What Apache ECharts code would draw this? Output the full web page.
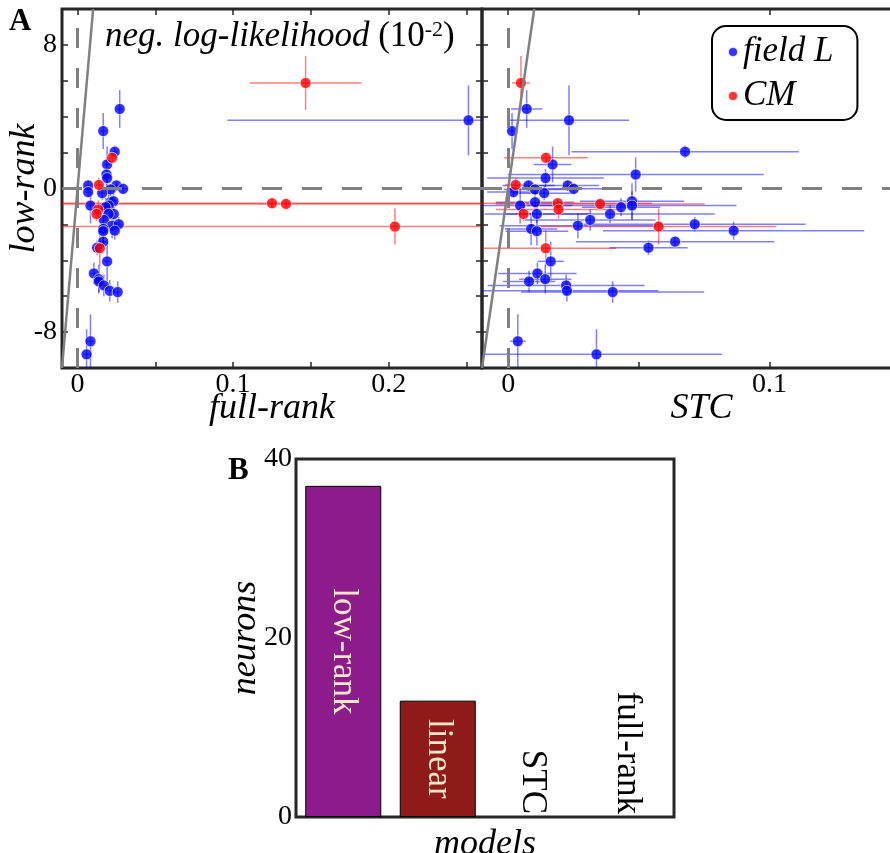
<!DOCTYPE html>
<html><head><meta charset="utf-8">
<script src="https://cdn.jsdelivr.net/npm/echarts@6/dist/echarts.min.js"></script>
<style>html,body{margin:0;padding:0;background:#fff}#c{width:890px;height:853px}</style>
</head><body><div id="c"></div>
<script>
// ---------- Panel A: field L (blue) ----------
const fieldL_lowRank    = [4.43, 3.80, 3.20, 2.05, 1.34, 0.78, 0.58, 0.17, -0.05, 0.17, -0.02, -0.26, -0.20, -0.95, -0.76, -0.71, -0.95, -1.04, -1.42, -1.42, -1.75, -2.07, -1.99, -2.35, -2.25, -2.38, -2.96, -3.30, -4.06, -4.73, -5.05, -5.18, -5.40, -5.70, -5.77, -8.51, -9.24];
const fieldL_lowRankErr = [1.05, 1.95, 1.0, 0.35, 1.0, 0.95, 0.5, 0.3, 0.3, 0.3, 0.3, 0.4, 0.3, 1.0, 0.5, 1.0, 0.8, 0.5, 0.5, 0.5, 0.6, 0.7, 0.4, 0.5, 0.9, 0.8, 0.3, 0.4, 1.1, 0.6, 0.8, 0.6, 0.6, 0.6, 0.6, 1.5, 1.4];
const fieldL_fullRank   = [0.0271, 0.2513, 0.0165, 0.0239, 0.0190, 0.0186, 0.0190, 0.0250, 0.0212, 0.0068, 0.0293, 0.0158, 0.0068, 0.0083, 0.0212, 0.0231, 0.0200, 0.0180, 0.0233, 0.0200, 0.0169, 0.0222, 0.0265, 0.0239, 0.0165, 0.0165, 0.0165, 0.0126, 0.0190, 0.0105, 0.0137, 0.0137, 0.0169, 0.0207, 0.0258, 0.0083, 0.0058];
const fieldL_fullRankErr= [0.002, 0.155, 0.002, 0.002, 0.002, 0.002, 0.002, 0.003, 0.002, 0.002, 0.003, 0.002, 0.002, 0.002, 0.002, 0.002, 0.002, 0.002, 0.002, 0.002, 0.002, 0.002, 0.002, 0.002, 0.002, 0.002, 0.002, 0.003, 0.002, 0.002, 0.002, 0.002, 0.002, 0.002, 0.002, 0.002, 0.002];
const fieldL_stc        = [0.0071, 0.0233, 0.0015, 0.0677, 0.0170, 0.0488, 0.0143, 0.0078, 0.0103, 0.0228, 0.0251, 0.0138, 0.0020, 0.0046, 0.0103, 0.0474, 0.0474, 0.0432, 0.0110, 0.0390, 0.0314, 0.0267, 0.0714, 0.0863, 0.0088, 0.0110, 0.0639, 0.0537, 0.0163, 0.0112, 0.0142, 0.0080, 0.0222, 0.0225, 0.0400, 0.0037, 0.0338];
const fieldL_stcErr     = [0.006, 0.023, 0.001, 0.0435, 0.0072, 0.049, 0.0223, 0.01, 0.012, 0.012, 0.012, 0.012, 0.01, 0.02, 0.015, 0.02, 0.04, 0.015, 0.02, 0.04, 0.025, 0.03, 0.0425, 0.05, 0.01, 0.012, 0.038, 0.015, 0.005, 0.015, 0.01, 0.01, 0.03, 0.035, 0.035, 0.003, 0.048];
// ---------- Panel A: CM (red) ----------
const cm_lowRank     = [5.88, 1.71, 0.20, -0.82, -0.86, -1.17, -1.42, -2.12, -3.33];
const cm_lowRankErr  = [1.5, 0.3, 0.4, 0.3, 0.3, 0.5, 0.4, 1.0, 1.0];
const cm_fullRank    = [0.1466, 0.0222, 0.0137, 0.125, 0.134, 0.0133, 0.0122, 0.204, 0.0143];
const cm_fullRankErr = [0.036, 0.002, 0.002, 0.3, 0.3, 0.002, 0.002, 0.3, 0.002];
const cm_stc         = [0.0049, 0.0145, 0.0029, 0.019, 0.0352, 0.0193, 0.0059, 0.0576, 0.0144];
const cm_stcErr      = [0.0034, 0.016, 0.004, 0.036, 0.04, 0.024, 0.003, 0.045, 0.027];
// reference line y = 1000 x (endpoints in data units)
const refLine = [[-0.01, -10], [0.01, 10]];
// axis ticks / labels
const yTickLabels = [-8, 0, 8];
const xFullTicks = [0, 0.05, 0.1, 0.15, 0.2, 0.25];
const xFullLabels = [0, 0.1, 0.2];
const xStcTicks = [0, 0.05, 0.1, 0.15];
const xStcLabels = [0, 0.1];
// ---------- Panel B ----------
const modelNames = ['low-rank', 'linear', 'STC', 'full-rank'];
const neuronCounts = [37, 13, 0, 0];
const bTickLabels = [0, 20, 40];

const FONT = "Liberation Serif, Times New Roman, serif";
const AX = '#262626';
const Y_MIN = -10, Y_MAX = 10;
const XF_MIN = -0.01, XF_MAX = 0.26;
const XS_MIN = -0.01, XS_MAX = 0.158;

function zip(xs, ys, exs, eys) { return xs.map((x, i) => [x, ys[i], exs[i], eys[i]]); }

function errRender(xmin, xmax, color) {
  return function (params, api) {
    const x = api.value(0), y = api.value(1), ex = api.value(2), ey = api.value(3);
    const c = (v, a, b) => Math.max(a, Math.min(b, v));
    const p1 = api.coord([c(x - ex, xmin, xmax), y]);
    const p2 = api.coord([c(x + ex, xmin, xmax), y]);
    const p3 = api.coord([x, c(y - ey, Y_MIN, Y_MAX)]);
    const p4 = api.coord([x, c(y + ey, Y_MIN, Y_MAX)]);
    const style = { stroke: color, lineWidth: 1.5 };
    return { type: 'group', children: [
      { type: 'line', shape: { x1: p1[0], y1: p1[1], x2: p2[0], y2: p2[1] }, style },
      { type: 'line', shape: { x1: p3[0], y1: p3[1], x2: p4[0], y2: p4[1] }, style }
    ]};
  };
}

const tickStyle = { lineStyle: { color: AX, width: 1.5 }, inside: true, length: 6 };
const nameStyle = { fontFamily: FONT, fontSize: 36, fontStyle: 'italic', color: '#000' };
const noLine = { show: false, onZero: false };

function valX(grid, pos, min, max, ticks, name, gap) {
  return {
    type: 'value', gridIndex: grid, position: pos, min, max,
    axisLine: noLine, splitLine: { show: false },
    axisTick: Object.assign({ customValues: ticks }, tickStyle),
    axisLabel: { show: false },
    name: name || '', nameLocation: 'middle', nameGap: gap || 14, nameTextStyle: nameStyle, nameMoveOverlap: false
  };
}
function valY(grid, pos, min, max, interval, name, gap) {
  return {
    type: 'value', gridIndex: grid, position: pos, min, max, interval,
    axisLine: noLine, splitLine: { show: false },
    axisTick: tickStyle,
    axisLabel: { show: false },
    name: name || '', nameLocation: 'middle', nameGap: gap || 16, nameRotate: 90, nameTextStyle: nameStyle, nameMoveOverlap: false
  };
}

const errColorB = 'rgba(0,0,255,0.5)', errColorR = 'rgba(255,0,0,0.5)';
const markerB = { color: '#0000FF', borderColor: '#fff', borderWidth: 0.8 };
const markerR = { color: '#FF0000', borderColor: '#fff', borderWidth: 0.8 };

function panelSeries(xi, yi, xB, xBe, xR, xRe, xmin, xmax) {
  return [
    { type: 'custom', xAxisIndex: xi, yAxisIndex: yi, renderItem: errRender(xmin, xmax, errColorB), data: zip(xB, fieldL_lowRank, xBe, fieldL_lowRankErr), z: 1, silent: true, clip: true },
    { type: 'custom', xAxisIndex: xi, yAxisIndex: yi, renderItem: errRender(xmin, xmax, errColorR), data: zip(xR, cm_lowRank, xRe, cm_lowRankErr), z: 1, silent: true, clip: true },
    { name: 'field L', type: 'scatter', xAxisIndex: xi, yAxisIndex: yi, symbolSize: 11, itemStyle: markerB, data: xB.map((x, i) => [x, fieldL_lowRank[i]]), z: 3 },
    { name: 'CM', type: 'scatter', xAxisIndex: xi, yAxisIndex: yi, symbolSize: 11, itemStyle: markerR, data: xR.map((x, i) => [x, cm_lowRank[i]]), z: 4 },
    { type: 'line', xAxisIndex: xi, yAxisIndex: yi, data: refLine, symbol: 'none', silent: true, z: 5,
      lineStyle: { color: '#808080', width: 2.5 },
      markLine: { silent: true, symbol: 'none', label: { show: false },
        lineStyle: { color: '#808080', width: 3, type: [20, 20] },
        data: [{ xAxis: 0 }, { yAxis: 0 }] } }
  ];
}

const staticGraphics = [
  { type: 'text', left: 9, top: 6, style: { text: 'A', fontFamily: FONT, fontWeight: 'bold', fontSize: 31, fill: '#000' } },
  { type: 'text', left: 228, top: 455, style: { text: 'B', fontFamily: FONT, fontWeight: 'bold', fontSize: 31, fill: '#000' } },
  { type: 'text', left: 105, top: 19, z: 10, style: {
      text: '{i|neg. log-likelihood }{n|(10}{s|-2}{n|)}', fill: '#000', fontFamily: FONT, fontSize: 35,
      rich: { i: { fontFamily: FONT, fontSize: 35, fontStyle: 'italic' }, n: { fontFamily: FONT, fontSize: 35 }, s: { fontFamily: FONT, fontSize: 22, verticalAlign: 'top' } } } }
];

const gridBase = { show: true, borderColor: AX, borderWidth: 3, backgroundColor: 'transparent', outerBoundsMode: 'none', containLabel: false };
const chart = echarts.init(document.getElementById('c'), null, { renderer: 'canvas' });
chart.setOption({
  animation: false,
  backgroundColor: '#fff',
  textStyle: { fontFamily: FONT },
  grid: [
    Object.assign({ left: 62, top: 9, width: 420, height: 359 }, gridBase),
    Object.assign({ left: 482, top: 9, width: 439, height: 359 }, gridBase),
    Object.assign({ left: 296, top: 459, width: 378, height: 358 }, gridBase)
  ],
  legend: {
    data: ['field L', 'CM'], orient: 'vertical', left: 712, top: 26, selectedMode: false,
    padding: [6, 24, 4, 15], itemGap: 4, itemWidth: 10, itemHeight: 10, icon: 'circle',
    borderColor: '#000', borderWidth: 2, borderRadius: 14, backgroundColor: '#fff',
    textStyle: { fontFamily: FONT, fontStyle: 'italic', fontSize: 35, lineHeight: 40, color: '#000' }
  },
  xAxis: [
    valX(0, 'bottom', XF_MIN, XF_MAX, xFullTicks, 'full-rank', 23),
    valX(0, 'top', XF_MIN, XF_MAX, xFullTicks, ''),
    valX(1, 'bottom', XS_MIN, XS_MAX, xStcTicks, 'STC', 23),
    valX(1, 'top', XS_MIN, XS_MAX, xStcTicks, ''),
    { type: 'category', gridIndex: 2, position: 'bottom', data: modelNames,
      axisLine: noLine, axisTick: Object.assign({ alignWithLabel: true }, tickStyle), axisLabel: { show: false },
      name: 'models', nameLocation: 'middle', nameGap: 10, nameTextStyle: nameStyle, nameMoveOverlap: false },
    { type: 'category', gridIndex: 2, position: 'top', data: modelNames,
      axisLine: noLine, axisTick: Object.assign({ alignWithLabel: true }, tickStyle), axisLabel: { show: false } }
  ],
  yAxis: [
    valY(0, 'left', Y_MIN, Y_MAX, 2, 'low-rank', 19),
    valY(0, 'right', Y_MIN, Y_MAX, 2, ''),
    valY(1, 'left', Y_MIN, Y_MAX, 2, ''),
    valY(2, 'left', 0, 40, 5, 'neurons', 32),
    valY(2, 'right', 0, 40, 5, '')
  ],
  graphic: staticGraphics,
  series: [
    ...panelSeries(0, 0, fieldL_fullRank, fieldL_fullRankErr, cm_fullRank, cm_fullRankErr, XF_MIN, XF_MAX),
    ...panelSeries(2, 2, fieldL_stc, fieldL_stcErr, cm_stc, cm_stcErr, XS_MIN, XS_MAX),
    { type: 'bar', xAxisIndex: 4, yAxisIndex: 3, barWidth: 76,
      label: { show: true, formatter: '{b}', rotate: -90, fontFamily: FONT, fontSize: 35 },
      data: neuronCounts.map((v, i) => ({
        value: v,
        itemStyle: { color: ['#8E1B8B', '#8E1A1A', '#888', '#888'][i], borderColor: '#000', borderWidth: v > 0 ? 1 : 0 },
        label: v > 0 ? { position: 'inside', color: '#F3E6C8' }
                     : { position: 'insideBottom', align: 'right', verticalAlign: 'middle', distance: 3, color: '#000' }
      })) }
  ]
});

// Tick labels placed through the axes' own scales (serif font)
function tickText(x, y, text, align, vAlign) {
  return { type: 'text', x, y, silent: true, z: 10,
    style: { text: String(text), fontFamily: FONT, fontSize: 28, fill: '#000', align, verticalAlign: vAlign, textAlign: align, textVerticalAlign: vAlign } };
}
const labels = [];
const bottomA = chart.convertToPixel({ yAxisIndex: 0 }, Y_MIN);
const leftA = chart.convertToPixel({ xAxisIndex: 0 }, XF_MIN);
xFullLabels.forEach(v => labels.push(tickText(chart.convertToPixel({ xAxisIndex: 0 }, v), bottomA + 3, v, 'center', 'top')));
xStcLabels.forEach(v => labels.push(tickText(chart.convertToPixel({ xAxisIndex: 2 }, v), bottomA + 3, v, 'center', 'top')));
yTickLabels.forEach(v => labels.push(tickText(leftA - 5, chart.convertToPixel({ yAxisIndex: 0 }, v), v, 'right', 'middle')));
bTickLabels.forEach(v => labels.push(tickText(292, chart.convertToPixel({ yAxisIndex: 3 }, v), v, 'right', 'middle')));
chart.setOption({ graphic: staticGraphics.concat(labels) });
</script></body></html>
